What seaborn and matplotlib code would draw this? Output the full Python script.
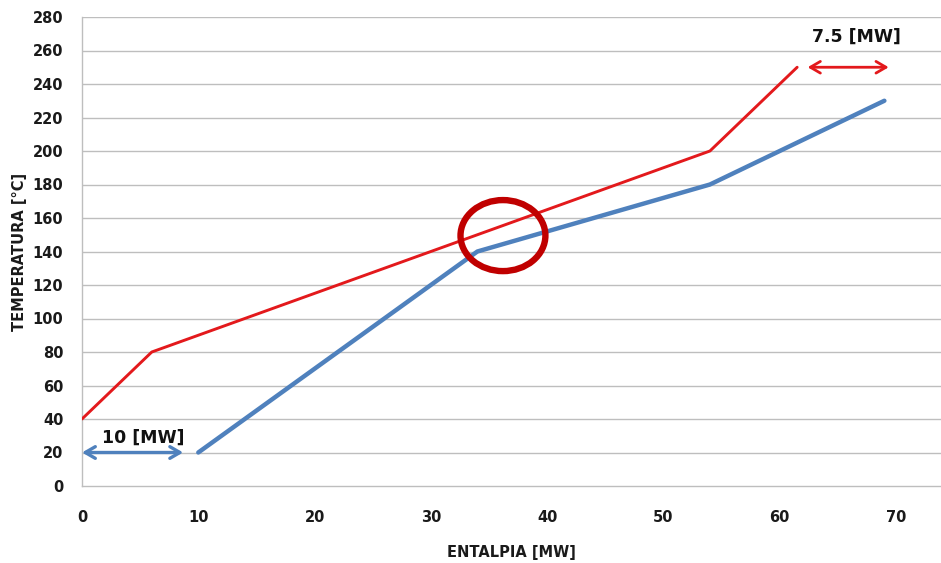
import matplotlib
matplotlib.use("Agg")
import matplotlib.pyplot as plt
from matplotlib.patches import Ellipse
import seaborn as sns
import pandas as pd

# Hot stream (red) and cold stream (blue) composite curves
hot_enthalpy = [0, 6, 54, 61.5]
hot_temp = [40, 80, 200, 250]
cold_enthalpy = [10, 34, 54, 69]
cold_temp = [20, 140, 180, 230]

x_ticks = [0, 10, 20, 30, 40, 50, 60, 70]
y_ticks = list(range(0, 281, 20))

# Heat recovery gaps at each end
cold_gap = 10      # [MW] at the cold end
hot_gap = 7.5      # [MW] at the hot end

hot_df = pd.DataFrame({"ENTALPIA": hot_enthalpy, "TEMPERATURA": hot_temp})
cold_df = pd.DataFrame({"ENTALPIA": cold_enthalpy, "TEMPERATURA": cold_temp})

sns.set_theme(style="white")
plt.rcParams["font.family"] = ["DejaVu Sans"]

fig = plt.figure(figsize=(9.41, 5.63), dpi=100)
ax = fig.add_axes([82 / 941, 1 - 486 / 563, 1 - 82 / 941, (486 - 17) / 563])

grid_color = "#BEBEBE"
for y in y_ticks[1:]:
    ax.axhline(y, color=grid_color, lw=1.0, zorder=0)

sns.lineplot(data=hot_df, x="ENTALPIA", y="TEMPERATURA", ax=ax,
             color="#E3191C", lw=2.1, sort=False, zorder=3)
sns.lineplot(data=cold_df, x="ENTALPIA", y="TEMPERATURA", ax=ax,
             color="#4F81BD", lw=3.2, sort=False, zorder=2)

ax.set_xlim(0, (941 - 82) / ((896 - 82) / 70))
ax.set_ylim(0, 280)
ax.set_xticks(x_ticks)
ax.set_yticks(y_ticks)
ax.tick_params(axis="x", length=0, labelsize=10.5, pad=17)
ax.tick_params(axis="y", length=0, labelsize=10.5, pad=13.5)
for lab in ax.get_xticklabels() + ax.get_yticklabels():
    lab.set_fontweight("bold")
    lab.set_color("#1A1A1A")

for side in ["top", "right"]:
    ax.spines[side].set_visible(False)
for side in ["left", "bottom"]:
    ax.spines[side].set_color(grid_color)
    ax.spines[side].set_linewidth(1.0)

ax.set_xlabel("ENTALPIA [MW]", fontsize=10.5, fontweight="bold",
              color="#1A1A1A", labelpad=15)
ax.set_ylabel("TEMPERATURA [°C]", fontsize=10.5, fontweight="bold",
              color="#1A1A1A", labelpad=4)

# Cold-end gap arrow
ax.annotate("", xy=(0, cold_temp[0]), xytext=(cold_gap * 0.87, cold_temp[0]),
            arrowprops=dict(arrowstyle="<->,head_length=0.6,head_width=0.35",
                            color="#4F81BD", lw=2.4,
                            shrinkA=0, shrinkB=0),
            annotation_clip=False, zorder=4)
ax.text(5.3, 29, f"{cold_gap:g} [MW]", ha="center", va="center",
        fontsize=12.5, fontweight="bold", color="#111111")

# Hot-end gap arrow
ax.annotate("", xy=(62.4, hot_temp[-1]), xytext=(62.4 + hot_gap * 0.93, hot_temp[-1]),
            arrowprops=dict(arrowstyle="<->,head_length=0.6,head_width=0.35",
                            color="#E3191C", lw=2.0,
                            shrinkA=0, shrinkB=0),
            zorder=4)
ax.text(66.6, 268, f"{hot_gap:g} [MW]", ha="center", va="center",
        fontsize=12.5, fontweight="bold", color="#111111")

# Pinch point marker
ax.add_patch(Ellipse((36.2, 149.5), width=7.3, height=42.4, fill=False,
                     edgecolor="#C00000", lw=4.6, zorder=5))

fig.savefig("out.png", dpi=100)
